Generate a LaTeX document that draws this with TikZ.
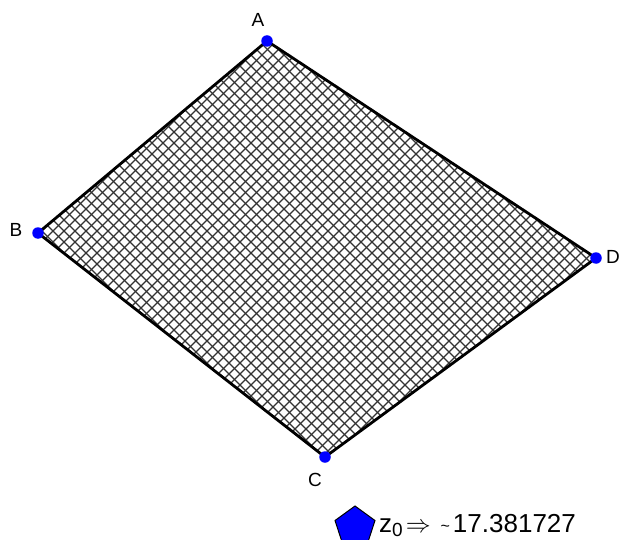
\documentclass[tikz,border=0pt]{standalone}
\usepackage{fontspec}
\setmainfont{Liberation Sans}
\usetikzlibrary{shapes.geometric}
\tikzset{
  vertex/.style={circle,fill=blue,inner sep=0pt,minimum size=11.5pt},
  edge/.style={line width=2.8pt,line cap=round,line join=round},
  hatch/.style={line width=1.25pt,black!80},
  lbl/.style={font=\fontsize{19}{22}\selectfont,inner sep=0pt}
}
\begin{document}
\begin{tikzpicture}[x=1pt,y=-1pt]
\useasboundingbox (0,0) rectangle (626,540);
\coordinate (pa) at (267,41);
\coordinate (pb) at (38,233);
\coordinate (pc) at (325,457);
\coordinate (pd) at (596,258);
\begin{scope}
  \clip (pa) -- (pb) -- (pc) -- (pd) -- cycle;
  \foreach \i in {0,...,60}{
    \pgfmathsetmacro{\cp}{262+\i*11}
    \pgfmathsetmacro{\cm}{-200+\i*11}
    \draw[hatch] (\cp,0) -- (\cp-600,600);
    \draw[hatch] (\cm,0) -- (\cm+600,600);
  }
\end{scope}
\draw[edge] (pa) -- (pb) -- (pc) -- (pd) -- cycle;
\node[vertex] (a) at (pa) {};
\node[vertex] (b) at (pb) {};
\node[vertex] (c) at (pc) {};
\node[vertex] (d) at (pd) {};
\node[lbl] (la) at (258,20) {A};
\node[lbl] (lb) at (16,230) {B};
\node[lbl] (lc) at (315,480) {C};
\node[lbl] (ld) at (613,257) {D};
\node[regular polygon,regular polygon sides=5,fill=blue,draw=black,line width=1pt,minimum size=42pt,inner sep=0pt] (pent) at (355,527) {};
\node[anchor=base west,inner sep=0pt,font=\fontsize{26}{30}\selectfont] (val) at (379,532)
  {z\raisebox{-4pt}{\fontsize{19}{19}\selectfont 0}\hspace{3pt}$\Rightarrow$\hspace{10pt}{\fontsize{16}{16}\selectfont\raisebox{0.5pt}{\char"007E}}\hspace{3pt}17.381727};
\end{tikzpicture}
\end{document}
